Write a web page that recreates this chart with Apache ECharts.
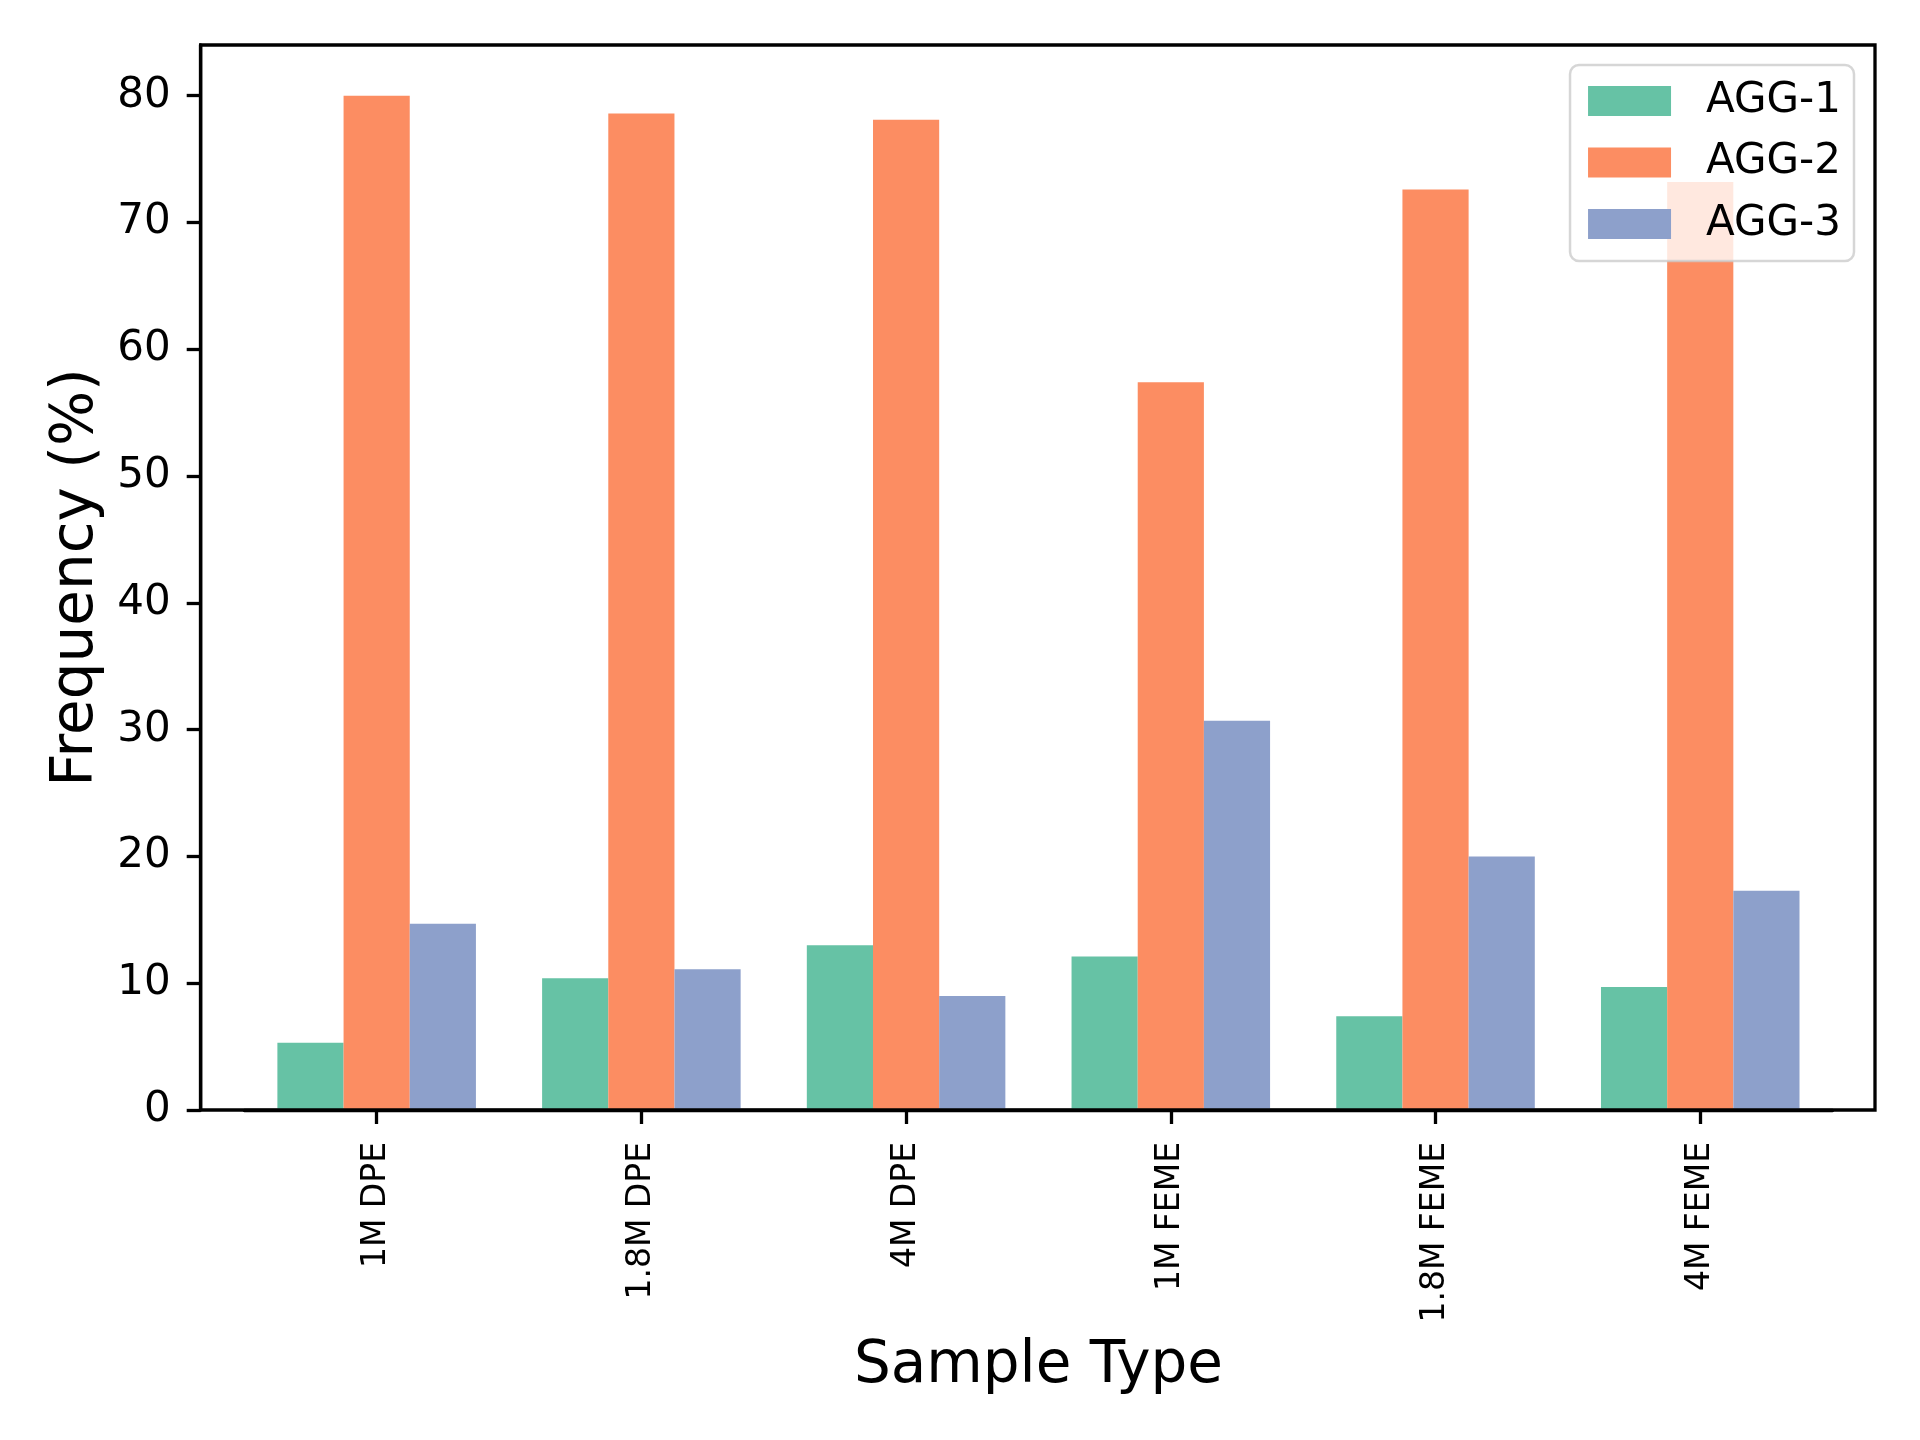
<!DOCTYPE html>
<html>
<head>
<meta charset="utf-8">
<script src="https://cdn.jsdelivr.net/npm/echarts@6/dist/echarts.min.js"></script>
<style>html,body{margin:0;padding:0;background:#fff}#c{width:1920px;height:1440px}</style>
</head>
<body>
<div id="c"></div>
<script>
const categories = ['1M DPE', '1.8M DPE', '4M DPE', '1M FEME', '1.8M FEME', '4M FEME'];
const agg1 = [5.3, 10.4, 13.0, 12.1, 7.4, 9.7];
const agg2 = [80.0, 78.6, 78.1, 57.4, 72.6, 73.2];
const agg3 = [14.7, 11.1, 9.0, 30.7, 20.0, 17.3];
const seriesNames = ['AGG-1', 'AGG-2', 'AGG-3'];
const yTicks = [0, 10, 20, 30, 40, 50, 60, 70, 80];

const colors = ['#66c2a5', '#fc8d62', '#8da0cb'];
const font = 'DejaVu Sans';
const chart = echarts.init(document.getElementById('c'), null, {renderer: 'canvas'});

const seriesData = [agg1, agg2, agg3];
chart.setOption({
  backgroundColor: '#fff',
  animation: false,
  textStyle: {fontFamily: font, color: '#000'},
  grid: [
    {left: 200.7, right: 45, top: 45, bottom: 330, show: true, borderColor: '#000', borderWidth: 3.3, backgroundColor: 'transparent', z: 3},
    {left: 244.3, right: 87.4, top: 45, bottom: 330}
  ],
  legend: {
    data: seriesNames,
    orient: 'vertical',
    right: 66, top: 65,
    itemWidth: 83, itemHeight: 30, itemGap: 19.5,
    padding: [15, 13, 16, 18],
    backgroundColor: 'rgba(255,255,255,0.8)',
    borderColor: 'rgba(204,204,204,0.8)',
    borderWidth: 2.5,
    borderRadius: 9,
    icon: 'rect',
    z: 10,
    textStyle: {fontFamily: font, fontSize: 42, color: '#000', lineHeight: 30, padding: [0, 0, 0, 30]}
  },
  xAxis: [
    {gridIndex: 0, type: 'value', show: false, min: 0, max: 1},
    {
      gridIndex: 1, type: 'category', data: categories,
      name: 'Sample Type', nameLocation: 'middle', nameGap: 228,
      nameTextStyle: {fontFamily: font, fontSize: 58, color: '#000', lineHeight: 58},
      axisLine: {show: true, lineStyle: {color: '#000', width: 3.3}},
      axisTick: {show: true, alignWithLabel: true, length: 14, lineStyle: {color: '#000', width: 3.3}},
      axisLabel: {rotate: 90, fontFamily: font, fontSize: 33, color: '#000', margin: 32},
      splitLine: {show: false}
    }
  ],
  yAxis: [
    {gridIndex: 0, type: 'value', show: false, min: 0, max: 1},
    {
      gridIndex: 1, type: 'value', min: 0, max: 84, offset: 43.6,
      name: 'Frequency (%)', nameLocation: 'middle', nameGap: 85, nameRotate: 90,
      nameTextStyle: {fontFamily: font, fontSize: 58, color: '#000', lineHeight: 58},
      axisLine: {show: true, lineStyle: {color: '#000', width: 3.3}},
      axisTick: {show: true, length: 14, customValues: yTicks, lineStyle: {color: '#000', width: 3.3}},
      axisLabel: {fontFamily: font, fontSize: 42, color: '#000', margin: 30, customValues: yTicks},
      splitLine: {show: false}
    }
  ],
  series: seriesNames.map((n, i) => ({
    name: n, type: 'bar', xAxisIndex: 1, yAxisIndex: 1,
    data: seriesData[i],
    barGap: '0%', barCategoryGap: '25%',
    itemStyle: {color: colors[i]},
    z: 2
  }))
});
</script>
</body>
</html>
